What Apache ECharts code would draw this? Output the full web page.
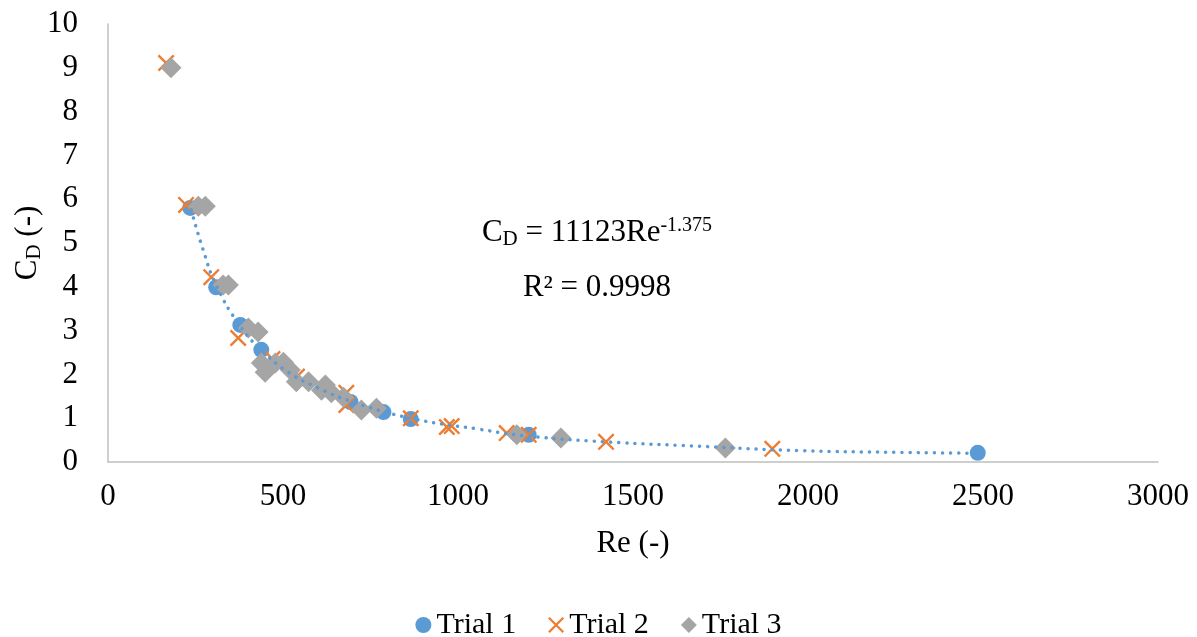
<!DOCTYPE html>
<html>
<head>
<meta charset="utf-8">
<title>CD vs Re</title>
<script src="https://cdn.jsdelivr.net/npm/echarts@6/dist/echarts.min.js"></script>
<style>
  html, body { margin: 0; padding: 0; background: #fff; }
  #chart { width: 1197px; height: 637px; }
</style>
</head>
<body>
<div id="chart"></div>
<script>
var serif = "'Liberation Serif', 'Times New Roman', serif"

// Trial 1 [Re, CD]
var trial1 = [
  [235, 5.80], [309, 3.99], [378, 3.13], [438, 2.56], [693, 1.37],
  [787, 1.14], [865, 0.98], [1202, 0.62], [2485, 0.21]
]
// Trial 2 [Re, CD]
var trial2 = [
  [166, 9.11], [223, 5.87], [295, 4.22], [372, 2.83], [470, 2.35],
  [540, 1.95], [681, 1.58], [681, 1.30], [865, 1.00], [968, 0.80],
  [982, 0.82], [1139, 0.66], [1202, 0.62], [1423, 0.46], [1898, 0.30]
]
// Trial 3 [Re, CD]
var trial3 = [
  [180, 9.00], [258, 5.84], [278, 5.84], [329, 4.04], [344, 4.04],
  [401, 3.06], [429, 2.97], [438, 2.26], [449, 2.05], [478, 2.26],
  [501, 2.28], [521, 2.10], [538, 1.83], [573, 1.83], [621, 1.76],
  [610, 1.64], [638, 1.58], [673, 1.48], [724, 1.19], [767, 1.23],
  [1168, 0.62], [1294, 0.55], [1764, 0.32]
]
// power trendline
var trend = [
  [238, 5.75], [272, 4.84], [309, 4.04], [378, 3.10], [438, 2.56],
  [515, 2.05], [601, 1.69], [693, 1.39], [865, 1.00], [1059, 0.75],
  [1202, 0.59], [1423, 0.46], [1689, 0.36], [1975, 0.26], [2262, 0.22],
  [2476, 0.20]
]

var legendNames = ['Trial 1', 'Trial 2', 'Trial 3']
var crossPath = 'path://M0,1L1,0L10,9L9,10Z M9,0L10,1L1,10L0,9Z'

function setOption(chart) {
  var options = {
    backgroundColor: '#fff',
    animation: false,
    textStyle: { fontFamily: serif, color: '#000' },
    grid: { left: 108, right: 39, top: 24, bottom: 175, outerBoundsMode: 'none' },
    legend: {
      data: legendNames,
      top: 605,
      left: 'center',
      itemGap: 32,
      itemWidth: 16,
      itemHeight: 16,
      textStyle: { fontFamily: serif, fontSize: 30, color: '#000' }
    },
    xAxis: {
      type: 'value',
      min: 0,
      max: 3000,
      interval: 500,
      name: 'Re (-)',
      nameLocation: 'middle',
      nameGap: 66,
      nameMoveOverlap: false,
      nameTextStyle: { fontFamily: serif, fontSize: 31, color: '#000' },
      axisLine: { lineStyle: { color: '#BFBFBF', width: 1.5 } },
      axisTick: { show: false },
      splitLine: { show: false },
      axisLabel: {
        fontFamily: serif, fontSize: 31, color: '#000', margin: 19,
        formatter: function (v) { return String(v) }
      }
    },
    yAxis: {
      type: 'value',
      min: 0,
      max: 10,
      interval: 1,
      name: '{c|C}{d|D}{c| (-)}',
      nameLocation: 'middle',
      nameGap: 63,
      nameMoveOverlap: false,
      nameTextStyle: {
        rich: {
          c: { fontFamily: serif, fontSize: 31, color: '#000' },
          d: { fontFamily: serif, fontSize: 21, color: '#000', padding: [13, 0, 0, 0] }
        }
      },
      axisLine: { show: true, lineStyle: { color: '#BFBFBF', width: 1.5 } },
      axisTick: { show: false },
      splitLine: { show: false },
      axisLabel: {
        fontFamily: serif, fontSize: 31, color: '#000', margin: 30,
        formatter: function (v) { return String(v) }
      }
    },
    graphic: [{
      type: 'text',
      style: {
        x: 597,
        y: 233,
        text: '{c|C}{d|D}{c| = 11123Re}{s|-1.375}',
        align: 'center',
        verticalAlign: 'middle',
        rich: {
          c: { fontFamily: serif, fontSize: 31, fill: '#000' },
          d: { fontFamily: serif, fontSize: 21, fill: '#000', padding: [13, 0, 0, 0] },
          s: { fontFamily: serif, fontSize: 20, fill: '#000', padding: [0, 0, 15, 0] }
        }
      }
    }, {
      type: 'text',
      style: {
        x: 597,
        y: 288,
        text: 'R² = 0.9998',
        align: 'center',
        verticalAlign: 'middle',
        font: '31px ' + serif,
        fill: '#000'
      }
    }],
    series: [{
      name: 'Trial 1',
      type: 'scatter',
      symbol: 'circle',
      symbolSize: 16,
      itemStyle: { color: '#5B9BD5', opacity: 1 },
      data: trial1
    }, {
      name: 'Trial 2',
      type: 'scatter',
      symbol: crossPath,
      symbolSize: 17,
      itemStyle: { color: '#ED7D31', opacity: 1 },
      data: trial2
    }, {
      name: 'Trial 3',
      type: 'scatter',
      symbol: 'diamond',
      symbolSize: 21,
      itemStyle: { color: '#A5A5A5', opacity: 1 },
      data: trial3
    }, {
      name: 'trend',
      type: 'line',
      smooth: true,
      symbol: 'none',
      silent: true,
      lineStyle: { color: '#5B9BD5', width: 3.5, type: [0.1, 8], cap: 'round' },
      data: trend
    }]
  }
  chart.setOption(options)
}

var chart = echarts.init(document.getElementById('chart'), null, { renderer: 'canvas' })
setOption(chart)
</script>
</body>
</html>
